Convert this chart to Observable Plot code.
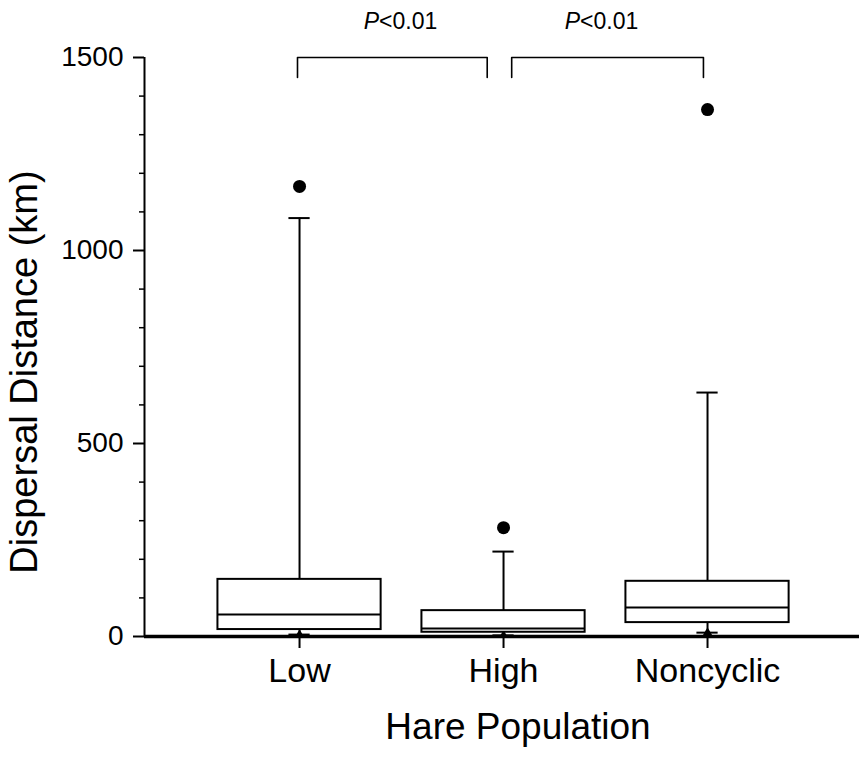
<!DOCTYPE html>
<html><head><meta charset="utf-8">
<script src="https://cdn.jsdelivr.net/npm/d3@7"></script>
<script src="https://cdn.jsdelivr.net/npm/@observablehq/plot@0.6"></script>
<style>body{margin:0;background:#fff}</style>
</head><body><div id="chart"></div>
<script>
// ---- data ----
const categories = ["Low", "High", "Noncyclic"];
const q1 = [18, 11, 36];
const median = [57, 21, 75];
const q3 = [148, 67, 143];
const whiskerLow = [5, 3, 10];
const whiskerHigh = [1084, 220, 632];
const outliers = [1166, 282, 1365];
const yMajorTicks = [0, 500, 1000, 1500];
const yMinorTicks = [100, 200, 300, 400, 600, 700, 800, 900, 1100, 1200, 1300, 1400];
const comparisons = [
  {from: "Low", to: "High", label: "P<0.01"},
  {from: "High", to: "Noncyclic", label: "P<0.01"}
];

// ---- styling constants ----
const xDomain = [-0.76, 2.745];
const boxHalf = 0.4;
const capHalf = 0.052;
const bracketTop = 1500, bracketFoot = 1448, labelY = 1575;
const bracketEnds = [[-0.01, -0.08], [0.04, -0.02]];
const labelShift = [0.04, -0.03];
const font = "'Liberation Sans', Arial, Helvetica, sans-serif";

const rows = categories.map((c, i) => ({
  c, i, q1: q1[i], med: median[i], q3: q3[i],
  lo: whiskerLow[i], hi: whiskerHigh[i], out: outliers[i]
}));

const bracketPts = [];
const bracketLabels = [];
comparisons.forEach((b, k) => {
  const a = categories.indexOf(b.from) + bracketEnds[k][0];
  const z = categories.indexOf(b.to) + bracketEnds[k][1];
  bracketPts.push({id: k, x: a, y: bracketFoot}, {id: k, x: a, y: bracketTop},
                  {id: k, x: z, y: bracketTop}, {id: k, x: z, y: bracketFoot});
  bracketLabels.push({x: (a + z) / 2 + labelShift[k], label: b.label});
});

const chart = Plot.plot({
  width: 859, height: 760,
  marginTop: 57, marginBottom: 124, marginLeft: 144, marginRight: 0,
  x: {type: "linear", domain: xDomain},
  y: {domain: [0, 1500]},
  style: {fontFamily: font, background: "white", color: "black"},
  marks: [
    Plot.axisY(yMinorTicks, {tickSize: 5, tickFormat: () => "", strokeWidth: 1.5, label: null}),
    Plot.axisY(yMajorTicks, {tickSize: 11, tickPadding: 10, fontSize: 28, strokeWidth: 2, tickFormat: d => String(d), label: null}),
    Plot.axisX([0, 1, 2], {tickFormat: i => categories[i], tickSize: 12, tickPadding: 9, fontSize: 34, strokeWidth: 2, label: null}),
    Plot.ruleX([xDomain[0]], {y1: 0, y2: 1500, strokeWidth: 2}),
    // whiskers
    Plot.ruleX(rows, {x: "i", y1: "q3", y2: "hi", strokeWidth: 2}),
    Plot.ruleX(rows, {x: "i", y1: "lo", y2: "q1", strokeWidth: 2}),
    Plot.ruleY(rows, {y: "hi", x1: d => d.i - capHalf, x2: d => d.i + capHalf, strokeWidth: 2}),
    Plot.ruleY(rows, {y: "lo", x1: d => d.i - capHalf, x2: d => d.i + capHalf, strokeWidth: 2}),
    Plot.dot(rows, {x: "i", y: "lo", symbol: "triangle", r: 3.5, fill: "black"}),
    // boxes
    Plot.rectY(rows, {x1: d => d.i - boxHalf, x2: d => d.i + boxHalf, y1: "q1", y2: "q3", fill: "white", stroke: "black", strokeWidth: 2}),
    Plot.ruleY(rows, {y: "med", x1: d => d.i - boxHalf, x2: d => d.i + boxHalf, strokeWidth: 2}),
    // outliers
    Plot.dot(rows, {x: "i", y: "out", r: 6.5, fill: "black"}),
    // x axis line
    Plot.ruleY([0], {strokeWidth: 3.5}),
    // significance brackets
    Plot.line(bracketPts, {x: "x", y: "y", z: "id", stroke: "black", strokeWidth: 1.6}),
    Plot.text(bracketLabels, {x: "x", y: labelY, text: "label", lineAnchor: "bottom", fontSize: 23}),
    // axis titles
    Plot.text(["Hare Population"], {frameAnchor: "bottom", dx: 16, dy: 102, fontSize: 37}),
    Plot.text(["Dispersal Distance (km)"], {frameAnchor: "left", textAnchor: "middle", rotate: -90, dx: -120, dy: 25, fontSize: 38})
  ]
});

// italic P in the significance labels
chart.querySelectorAll("text").forEach(t => {
  if (t.textContent === "P<0.01") {
    const target = t.querySelector("tspan") || t;
    target.textContent = "";
    const ns = "http://www.w3.org/2000/svg";
    const p = document.createElementNS(ns, "tspan");
    p.setAttribute("font-style", "italic");
    p.textContent = "P";
    target.appendChild(p);
    target.appendChild(document.createTextNode("<0.01"));
  }
});

document.getElementById("chart").appendChild(chart);
</script>
</body></html>
